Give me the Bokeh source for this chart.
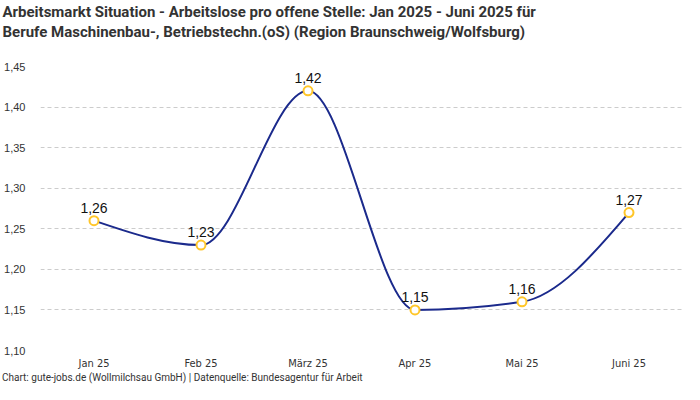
from bokeh.plotting import figure
from bokeh.models import ColumnDataSource, LabelSet, Title, FixedTicker, Range1d, Div
from bokeh.layouts import column
from bokeh.core.properties import value
from bokeh.embed import file_html
from bokeh.resources import INLINE

months = ["Jan 25", "Feb 25", "März 25", "Apr 25", "Mai 25", "Juni 25"]
values = [1.26, 1.23, 1.42, 1.15, 1.16, 1.27]
labels = ["1,26", "1,23", "1,42", "1,15", "1,16", "1,27"]
y_ticks = [1.10, 1.15, 1.20, 1.25, 1.30, 1.35, 1.40, 1.45]
y_tick_labels = ["1,10", "1,15", "1,20", "1,25", "1,30", "1,35", "1,40", "1,45"]
title1 = "Arbeitsmarkt Situation - Arbeitslose pro offene Stelle: Jan 2025 - Juni 2025 für"
title2 = "Berufe Maschinenbau-, Betriebstechn.(oS) (Region Braunschweig/Wolfsburg)"
footer = "Chart: gute-jobs.de (Wollmilchsau GmbH) | Datenquelle: Bundesagentur für Arbeit"

xs = list(range(len(months)))

# monotone cubic (d3 monotoneX) tangents for the smooth line
n = len(values)
sl = [(values[i + 1] - values[i]) / (xs[i + 1] - xs[i]) for i in range(n - 1)]
t = [0.0] * n
for i in range(1, n - 1):
    s0, s1 = sl[i - 1], sl[i]
    h0, h1 = xs[i] - xs[i - 1], xs[i + 1] - xs[i]
    p_ = (s0 * h1 + s1 * h0) / (h0 + h1)
    sg = (1 if s0 > 0 else -1 if s0 < 0 else 0) + (1 if s1 > 0 else -1 if s1 < 0 else 0)
    t[i] = sg * min(abs(s0), abs(s1), 0.5 * abs(p_))
t[0] = (3 * sl[0] - t[1]) / 2
t[-1] = (3 * sl[-1] - t[-2]) / 2

bx0, by0, bx1, by1, c0x, c0y, c1x, c1y = [], [], [], [], [], [], [], []
for i in range(n - 1):
    h = xs[i + 1] - xs[i]
    bx0.append(xs[i]); by0.append(values[i])
    bx1.append(xs[i + 1]); by1.append(values[i + 1])
    c0x.append(xs[i] + h / 3); c0y.append(values[i] + t[i] * h / 3)
    c1x.append(xs[i + 1] - h / 3); c1y.append(values[i + 1] - t[i + 1] * h / 3)

TF = "Roboto"
CF = "DejaVu Sans Condensed"
p = figure(width=684, height=372, output_backend="svg", toolbar_location=None,
           x_range=Range1d(-0.5, 5.5), y_range=Range1d(1.10, 1.45),
           min_border_left=40, min_border_right=2, min_border_top=0, min_border_bottom=0)

p.title.text = title1
p.title.text_font = TF
p.title.text_font_size = "15px"
p.title.text_font_style = "bold"
p.title.text_color = "#333333"
p.title.offset = -38
p.title.standoff = 0
spacer = Title(text=" ", text_font=TF, text_font_size="20px", standoff=0)
p.add_layout(spacer, "above")
t2 = Title(text=title2, text_font=TF, text_font_size="15px",
           text_font_style="bold", text_color="#333333", offset=-38, standoff=0)
p.add_layout(t2, "above")

p.outline_line_color = None
p.background_fill_color = "white"
p.border_fill_color = "white"

p.xgrid.grid_line_color = None
p.ygrid.grid_line_color = "#cccccc"
p.ygrid.grid_line_dash = "4 3"
p.ygrid.ticker = FixedTicker(ticks=y_ticks)

p.yaxis.ticker = FixedTicker(ticks=y_ticks)
p.yaxis.major_label_overrides = {v: l for v, l in zip(y_ticks, y_tick_labels)}
p.yaxis.axis_line_color = None
p.yaxis.major_tick_line_color = None
p.yaxis.minor_tick_line_color = None
p.yaxis.major_tick_out = 0
p.yaxis.major_label_text_font = "Liberation Sans"
p.yaxis.major_label_text_font_size = "11px"
p.yaxis.major_label_text_color = "#333333"
p.yaxis.major_label_standoff = 15

p.xaxis.ticker = FixedTicker(ticks=xs)
p.xaxis.major_label_overrides = {x: m for x, m in zip(xs, months)}
p.xaxis.axis_line_color = None
p.xaxis.major_tick_line_color = None
p.xaxis.minor_tick_line_color = None
p.xaxis.major_tick_out = 0
p.xaxis.axis_label_standoff = 0
p.xaxis.major_label_text_font = CF
p.xaxis.major_label_text_font_size = "11px"
p.xaxis.major_label_text_color = "#333333"
p.xaxis.major_label_standoff = 6

p.bezier(x0=bx0, y0=by0, x1=bx1, y1=by1, cx0=c0x, cy0=c0y, cx1=c1x, cy1=c1y,
         line_color="#1b2a8c", line_width=2)

src = ColumnDataSource(dict(x=xs, y=values, lab=labels))
p.scatter("x", "y", source=src, size=9, fill_color="white", line_color="#FFC629", line_width=2)
ls = LabelSet(x="x", y="y", text="lab", source=src, text_align="center", text_baseline="bottom",
              y_offset=8, text_font=value("Liberation Sans"), text_font_size="14px",
              text_font_style="normal", text_color="#111111")
p.add_layout(ls)

div = Div(text=footer, width=682, height=12, margin=(0, 0, 0, 2),
          styles={"font-family": "Roboto", "font-size": "10px", "line-height": "12px",
                  "color": "#333333", "white-space": "nowrap"})

layout = column(p, div, spacing=0)
open("out.html", "w").write(file_html(layout, INLINE))
